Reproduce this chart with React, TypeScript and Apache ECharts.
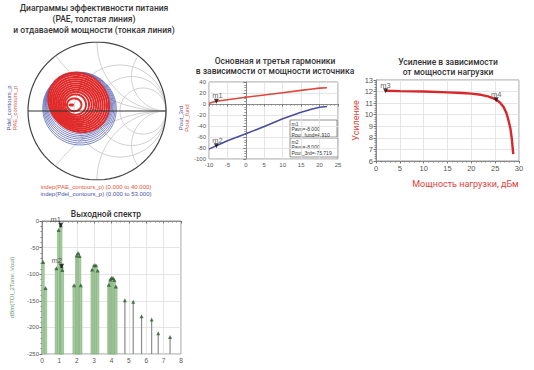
import React, { useEffect, useRef } from "react";
import * as echarts from "echarts";

// ---------- Smith chart (load-pull contours), Γ-plane ----------
// each contour: [centerX, centerY, radiusX, radiusY, tiltDeg], outer -> inner
const paeContours = [
  [-0.265, 0.125, 0.46, 0.41, -40],
  [-0.268, 0.123, 0.43, 0.384, -38],
  [-0.272, 0.12, 0.4, 0.358, -36],
  [-0.276, 0.117, 0.37, 0.333, -34],
  [-0.28, 0.114, 0.34, 0.308, -31],
  [-0.284, 0.111, 0.31, 0.283, -28],
  [-0.288, 0.108, 0.28, 0.258, -25],
  [-0.292, 0.105, 0.25, 0.233, -21],
  [-0.297, 0.102, 0.22, 0.207, -17],
  [-0.303, 0.098, 0.188, 0.179, -12],
  [-0.312, 0.094, 0.153, 0.147, -6],
  [-0.33, 0.09, 0.105, 0.093, 0],
  [-0.37, 0.087, 0.033, 0.008, 0],
];
const pdelContours = [
  [-0.253, 0.035, 0.535, 0.525, -30],
  [-0.255, 0.047, 0.52, 0.508, -30],
  [-0.257, 0.06, 0.505, 0.49, -30],
  [-0.26, 0.073, 0.492, 0.473, -32],
  [-0.262, 0.085, 0.481, 0.457, -34],
  [-0.264, 0.097, 0.472, 0.441, -36],
  [-0.265, 0.11, 0.465, 0.425, -38],
];
const smithR = [0.5, 1, 2];
const smithX = [0.5, 1, 2];
const paeRangeText = "indep(PAE_contours_p) (0.000 to 40.000)";
const pdelRangeText = "indep(Pdel_contours_p) (0.000 to 53.000)";

// ---------- Fundamental & 3rd harmonic vs source power ----------
const pavs = [-10, -8, -5, 0, 5, 10, 15, 18, 20, 22];
const poutFund = [1.2, 4.91, 7.8, 12.2, 16.5, 20.6, 24.8, 27.3, 28.8, 29.6];
const pout3rd = [-82, -75.719, -67, -54, -41, -27, -15, -9, -6, -4.5];
const harmMarkers = [
  { name: "m1", x: -8, y: 4.91, label: "Pout_fund" },
  { name: "m2", x: -8, y: -75.719, label: "Pout_3rd" },
];

// ---------- Gain vs load power ----------
const poutLoad = [2, 5, 10, 15, 18, 20, 22, 23.5, 25, 26, 26.8, 27.4, 27.8, 28.2, 28.5, 28.7, 28.8];
const gainDb = [12.07, 12.04, 12.0, 11.93, 11.88, 11.82, 11.72, 11.58, 11.35, 11.05, 10.65, 10.1, 9.5, 8.8, 7.9, 7.0, 6.6];
const gainMarkers = [
  { name: "m3", x: 2, y: 12.07 },
  { name: "m4", x: 25.2, y: 11.3 },
];

// ---------- Output spectrum ----------
const specFreq = [0.06, 0.2, 0.83, 0.96, 1.08, 1.13, 1.17, 1.85, 2.0, 2.08, 2.16, 2.23, 2.89, 3.0, 3.1, 3.2, 3.85, 3.93, 4.0, 4.08, 4.16, 4.25];
const specDbm = [-77, -126, -89, -17, -8, -85, -92, -121, -65, -60, -66, -121, -91, -83, -83, -93, -120, -110, -107, -107, -111, -123];
const toneFreq = [4.77, 5.25, 5.73, 6.31, 6.69, 7.37];
const toneDbm = [-149, -152, -179, -185, -211, -218];
const specMarkers = [
  { name: "m1", x: 1.08, y: -8 },
  { name: "m2", x: 1.13, y: -85 },
];

function ellipsePts(c: number[]) {
  const [cx, cy, rx, ry, deg] = c;
  const a = (deg * Math.PI) / 180;
  const pts: number[][] = [];
  for (let i = 0; i <= 90; i++) {
    const t = (i / 90) * Math.PI * 2;
    const ex = rx * Math.cos(t);
    const ey = ry * Math.sin(t);
    pts.push([cx + ex * Math.cos(a) - ey * Math.sin(a), cy + ex * Math.sin(a) + ey * Math.cos(a)]);
  }
  return pts;
}
function circlePts(cx: number, cy: number, r: number) {
  return ellipsePts([cx, cy, r, r, 0]);
}
function reactanceArc(x: number) {
  const cy = 1 / x;
  const r = Math.abs(1 / x);
  const px = (x * x - 1) / (x * x + 1);
  const py = (2 * x) / (x * x + 1);
  const t1 = Math.atan2(-cy, 0);
  let d = Math.atan2(py - cy, px - 1) - t1;
  while (d > Math.PI) d -= 2 * Math.PI;
  while (d < -Math.PI) d += 2 * Math.PI;
  const pts: number[][] = [];
  for (let i = 0; i <= 60; i++) {
    const t = t1 + (d * i) / 60;
    pts.push([1 + r * Math.cos(t), cy + r * Math.sin(t)]);
  }
  return pts;
}

const FONT = "Liberation Sans, Arial, sans-serif";
const TFONT = "Roboto, Liberation Sans, sans-serif";

function axisBase(fs: number, minorSplit: number) {
  return {
    type: "value",
    axisLine: { show: true, lineStyle: { color: "#8a8a8a", width: 1 } },
    axisTick: { show: true, length: 2.5, lineStyle: { color: "#777" } },
    minorTick: { show: true, splitNumber: minorSplit, length: 1.5, lineStyle: { color: "#888" } },
    splitLine: { show: true, lineStyle: { color: "#e0e0e0", width: 0.8 } },
    axisLabel: { fontSize: fs, color: "#555", margin: 3, fontFamily: FONT },
  };
}

function lineSeries(idx: number, data: number[][], color: string, width: number, z = 2) {
  return {
    type: "line",
    xAxisIndex: idx,
    yAxisIndex: idx,
    data,
    showSymbol: false,
    silent: true,
    z,
    lineStyle: { color, width },
  };
}

function markerSeries(idx: number, ms: { name: string; x: number; y: number }[], offset: number[]) {
  return {
    type: "scatter",
    xAxisIndex: idx,
    yAxisIndex: idx,
    symbol: "triangle",
    symbolRotate: 180,
    symbolSize: 5,
    z: 10,
    itemStyle: { color: "#111" },
    data: ms.map((m) => ({ name: m.name, value: [m.x, m.y] })),
    label: {
      show: true,
      formatter: (p: any) => p.name,
      position: "top",
      distance: 0,
      offset,
      fontSize: 7.5,
      color: "#333",
      fontFamily: FONT,
    },
  };
}

function textEl(text: string, x: number, y: number, fs: number, color: string, opts: any = {}) {
  return {
    type: "text",
    x,
    y,
    rotation: opts.rotation || 0,
    style: {
      text,
      fill: color,
      fontSize: fs,
      fontFamily: opts.family || FONT,
      fontWeight: opts.weight || "normal",
      lineHeight: opts.lineHeight,
      align: opts.align || "center",
      verticalAlign: opts.valign || "middle",
      textAlign: opts.align || "center",
      textVerticalAlign: opts.valign || "middle",
    },
  };
}

function markerBox(x: number, y: number, w: number, h: number, lines: string[]) {
  return {
    type: "group",
    x,
    y,
    children: [
      { type: "rect", shape: { x: 0, y: 0, width: w, height: h }, style: { fill: "#fff", stroke: "#777", lineWidth: 0.8 } },
      {
        type: "text",
        x: 1.5,
        y: 1,
        style: { text: lines.join("\n"), fill: "#333", fontSize: 5, lineHeight: 5.6, fontFamily: FONT, align: "left", verticalAlign: "top", textAlign: "left", textVerticalAlign: "top" },
      },
    ],
  };
}

export default function App() {
  const ref = useRef<HTMLDivElement>(null);
  useEffect(() => {
    if (!ref.current) return;
    const chart = echarts.init(ref.current, undefined, { renderer: "svg" });

    const series: any[] = [];
    // Smith grid
    smithR.forEach((r) => series.push(lineSeries(0, circlePts(r / (1 + r), 0, 1 / (1 + r)), "#c9c9c9", 0.9, 1)));
    smithX.forEach((x) => {
      series.push(lineSeries(0, reactanceArc(x), "#c9c9c9", 0.9, 1));
      series.push(lineSeries(0, reactanceArc(-x), "#c9c9c9", 0.9, 1));
    });
    pdelContours.forEach((c) => series.push(lineSeries(0, ellipsePts(c), "#5a64b4", 0.8, 3)));
    paeContours.forEach((c) => series.push(lineSeries(0, ellipsePts(c), "#e02a2a", 2.0, 4)));
    series.push(lineSeries(0, [[-1, 0], [1, 0]], "#333", 1.2, 5));
    series.push(lineSeries(0, circlePts(0, 0, 1), "#444", 1.2, 5));

    // Harmonics
    series.push(lineSeries(1, pavs.map((p, i) => [p, poutFund[i]]), "#e0463a", 1.6, 3));
    series.push(lineSeries(1, pavs.map((p, i) => [p, pout3rd[i]]), "#4a4d9e", 1.6, 3));
    series.push(markerSeries(1, harmMarkers, [1, 1]));

    // Gain
    series.push(lineSeries(2, poutLoad.map((p, i) => [p, gainDb[i]]), "#d8262a", 2.4, 3));
    series.push(markerSeries(2, gainMarkers, [0, 1]));

    // Spectrum
    series.push({
      type: "custom",
      xAxisIndex: 3,
      yAxisIndex: 3,
      z: 3,
      silent: true,
      data: toneFreq.map((f, i) => [f, toneDbm[i]]),
      renderItem: (_p: any, api: any) => {
        const top = api.coord([api.value(0), api.value(1)]);
        const base = api.coord([api.value(0), -250]);
        return { type: "rect", shape: { x: top[0] - 0.6, y: top[1], width: 1.2, height: base[1] - top[1] }, style: { fill: "#8d8d8d" } };
      },
    });
    series.push({
      type: "custom",
      xAxisIndex: 3,
      yAxisIndex: 3,
      z: 3,
      silent: true,
      data: specFreq.map((f, i) => [f, specDbm[i]]),
      renderItem: (_p: any, api: any) => {
        const top = api.coord([api.value(0), api.value(1)]);
        const base = api.coord([api.value(0), -250]);
        const w = 2.5;
        return { type: "rect", shape: { x: top[0] - w / 2, y: top[1], width: w, height: base[1] - top[1] }, style: { fill: "#a7cba1", stroke: "#78a872", lineWidth: 0.5 } };
      },
    });
    series.push({
      type: "scatter",
      xAxisIndex: 3,
      yAxisIndex: 3,
      symbol: "triangle",
      symbolSize: 4,
      z: 6,
      silent: true,
      itemStyle: { color: "#2f5d33" },
      data: specFreq.map((f, i) => [f, specDbm[i]]).concat(toneFreq.map((f, i) => [f, toneDbm[i]])),
    });
    series.push(markerSeries(3, specMarkers, [-5, 1]));

    const m1 = harmMarkers[0];
    const m2 = harmMarkers[1];

    const option: any = {
      animation: false,
      textStyle: { fontFamily: FONT },
      grid: [
        { left: 28, top: 42, width: 138, height: 138 },
        { left: 209, top: 82, width: 129, height: 77, show: true, borderColor: "#9a9a9a", borderWidth: 1 },
        { left: 376, top: 80, width: 143, height: 81, show: true, borderColor: "#9a9a9a", borderWidth: 1 },
        { left: 42, top: 221, width: 139, height: 133, show: true, borderColor: "#9a9a9a", borderWidth: 1 },
      ],
      xAxis: [
        { gridIndex: 0, type: "value", min: -1, max: 1, show: false },
        { ...axisBase(6, 5), gridIndex: 1, min: -10, max: 25, interval: 5 },
        {
          ...axisBase(7.5, 5),
          gridIndex: 2,
          min: 0,
          max: 30,
          interval: 5,
          name: "Мощность нагрузки, дБм",
          nameLocation: "middle",
          nameGap: 18,
          nameTextStyle: { color: "#e0413a", fontSize: 9, fontFamily: TFONT, padding: [0, 0, 0, 36] },
        },
        { ...axisBase(6.5, 4), gridIndex: 3, min: 0, max: 8, interval: 1 },
      ],
      yAxis: [
        { gridIndex: 0, type: "value", min: -1, max: 1, show: false },
        { ...axisBase(6, 4), gridIndex: 1, min: -100, max: 40, interval: 20 },
        {
          ...axisBase(7.5, 5),
          gridIndex: 2,
          min: 6,
          max: 13,
          interval: 1,
          name: "Усиление",
          nameLocation: "middle",
          nameGap: 16,
          nameTextStyle: { color: "#e0413a", fontSize: 9, fontFamily: TFONT },
        },
        {
          ...axisBase(6, 5),
          gridIndex: 3,
          min: -250,
          max: 0,
          interval: 50,
          name: "dBm(TOI_2Tone..Vout)",
          nameLocation: "middle",
          nameGap: 27,
          nameTextStyle: { color: "#5d9a5a", fontSize: 6, fontFamily: FONT },
        },
      ],
      series,
      graphic: [
        textEl("Диаграммы эффективности питания\n(PAE, толстая линия)\nи отдаваемой мощности (тонкая линия)", 94, 19, 8.5, "#333", { family: TFONT, lineHeight: 11, weight: 500 }),
        textEl("Основная и третья гармоники\nв зависимости от мощности источника", 275, 66, 8.5, "#333", { family: TFONT, lineHeight: 10, weight: 500 }),
        textEl("Усиление в зависимости\nот мощности нагрузки", 448, 67, 8.5, "#333", { family: TFONT, lineHeight: 10, weight: 500 }),
        textEl("Выходной спектр", 106, 214, 8.5, "#333", { family: TFONT, weight: 500 }),
        textEl("Pdel_contours_p", 9, 108, 6, "#4a52a8", { rotation: Math.PI / 2 }),
        textEl("PAE_contours_p", 15, 108, 6, "#e0553a", { rotation: Math.PI / 2 }),
        textEl(paeRangeText, 96, 187, 6, "#e0553a"),
        textEl(pdelRangeText, 96, 194, 6, "#4a52a8"),
        textEl("Pout_3rd", 181, 118, 6, "#4a52a8", { rotation: Math.PI / 2 }),
        textEl("Pout_fund", 187, 118, 6, "#e0553a", { rotation: Math.PI / 2 }),
        markerBox(290, 120, 47, 17, [m1.name, `Pavs=${m1.x.toFixed(3)}`, `${m1.label}=${m1.y.toFixed(3)}`]),
        markerBox(290, 138, 48, 19, [m2.name, `Pavs=${m2.x.toFixed(3)}`, `${m2.label}=${m2.y.toFixed(3)}`]),
      ],
    };
    chart.setOption(option);
    return () => chart.dispose();
  }, []);
  return <div ref={ref} style={{ position: "absolute", left: 0, top: 0, width: 534, height: 370, background: "#fff" }} />;
}
